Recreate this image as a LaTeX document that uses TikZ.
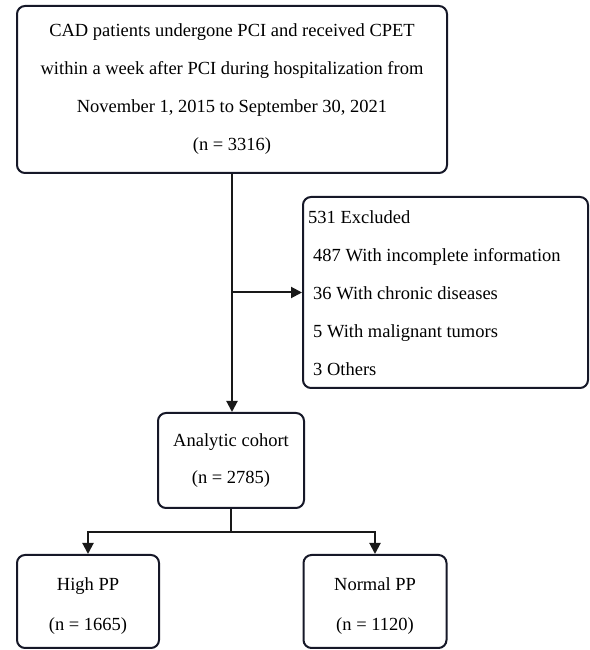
\documentclass[tikz,border=0pt]{standalone}
\usepackage{fontspec}
\setmainfont{Liberation Serif}
\usetikzlibrary{arrows.meta}
\definecolor{edge}{RGB}{22,24,40}
\tikzset{
  box/.style={draw=edge, line width=2pt, rounded corners=8pt, inner sep=0pt,
    align=center, font=\fontsize{18.5}{38}\selectfont},
  conn/.style={line width=2pt, draw=black!90},
  arr/.style={conn, -{Triangle[length=11pt,width=11pt]}},
  txt/.style={font=\fontsize{18.5}{38}\selectfont, inner sep=0pt}
}
\begin{document}
\begin{tikzpicture}[x=1pt,y=1pt]
\useasboundingbox (0,0) rectangle (589,650);
\node[box, minimum width=430pt, minimum height=167pt] (top) at (232,560.5)
  {CAD patients undergone PCI and received CPET\\
   within a week after PCI during hospitalization from\\
   November 1, 2015 to September 30, 2021\\
   (n = 3316)};
\node[box, minimum width=285pt, minimum height=191pt] (excl) at (445.5,357.5) {};
\node[txt, anchor=north west, align=left] (excltext) at (308,440)
  {531 Excluded\\
   \hspace*{5pt}487 With incomplete information\\
   \hspace*{5pt}36 With chronic diseases\\
   \hspace*{5pt}5 With malignant tumors\\
   \hspace*{5pt}3 Others};
\node[box, minimum width=146pt, minimum height=95pt] (anal) at (231,189.5)
  {Analytic cohort\\[-1pt](n = 2785)};
\node[box, minimum width=142pt, minimum height=93pt] (high) at (88,48.5)
  {\rule{0pt}{21pt}High PP\\[2pt](n = 1665)};
\node[box, minimum width=143pt, minimum height=93pt] (norm) at (375,48.5)
  {\rule{0pt}{21pt}Normal PP\\[2pt](n = 1120)};
\coordinate (j) at (top.south |- excl.west);
\coordinate (split) at ([yshift=-23pt]anal.south);
\draw[arr] (top.south) -- (top.south |- anal.north);
\draw[arr] (j) -- (excl.west);
\draw[conn] (anal.south) -- (split);
\draw[arr] (split) -| (high.north);
\draw[arr] (split) -| (norm.north);
\end{tikzpicture}
\end{document}
